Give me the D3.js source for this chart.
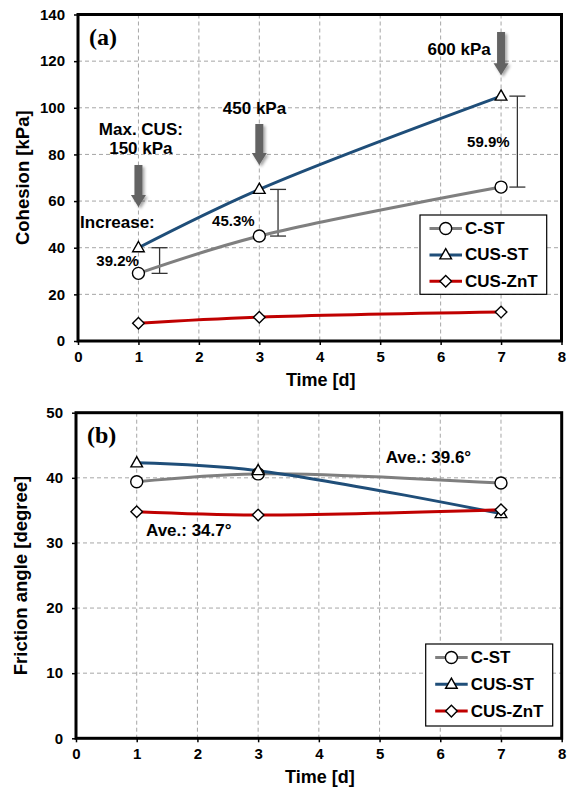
<!DOCTYPE html>
<html><head><meta charset="utf-8">
<script src="https://cdn.jsdelivr.net/npm/d3@7"></script>
<style>body{margin:0;background:#fff} svg{display:block}</style>
</head><body><svg id="c" width="567" height="792"></svg>
<script>
// ---------- data ----------
const days = [1, 3, 7];
const seriesNames = ["C-ST", "CUS-ST", "CUS-ZnT"];
const cohesionCST = [29, 45, 66];
const cohesionCUSST = [40, 65, 105];
const cohesionCUSZnT = [7.6, 10.2, 12.4];
const frictionCST = [39.4, 40.6, 39.2];
const frictionCUSST = [42.3, 41.1, 34.5];
const frictionCUSZnT = [34.8, 34.3, 35.1];
const xTicks = [0, 1, 2, 3, 4, 5, 6, 7, 8];
const cohesionTicks = [0, 20, 40, 60, 80, 100, 120, 140];
const frictionTicks = [0, 10, 20, 30, 40, 50];
const increaseLabels = ["39.2%", "45.3%", "59.9%"];
const pressureLabels = ["150 kPa", "450 kPa", "600 kPa"];
const averageLabels = ["Ave.: 39.6°", "Ave.: 34.7°"];

const colors = ["#7f7f7f", "#1f4e79", "#c00000"];
const markers = ["circle", "triangle", "diamond"];
const FONT = "'Liberation Sans', Arial, Helvetica, sans-serif";

const svg = d3.select("#c");
const defs = svg.append("defs");
const f = defs.append("filter").attr("id", "sh").attr("x", "-50%").attr("y", "-50%").attr("width", "200%").attr("height", "200%");
f.append("feDropShadow").attr("dx", 2).attr("dy", 2).attr("stdDeviation", 1.6).attr("flood-color", "#000").attr("flood-opacity", 0.35);

function markerPath(type) {
  if (type === "triangle") return "M0,-6.2L5.8,4L-5.8,4Z";
  if (type === "diamond") return "M0,-5.8L5.8,0L0,5.8L-5.8,0Z";
  return null;
}
function drawMarker(g, type, cx, cy) {
  if (type === "circle") {
    g.append("circle").attr("cx", cx).attr("cy", cy).attr("r", 6)
      .attr("fill", "#fff").attr("stroke", "#000").attr("stroke-width", 1.4);
  } else {
    g.append("path").attr("d", markerPath(type)).attr("transform", `translate(${cx},${cy})`)
      .attr("fill", "#fff").attr("stroke", "#000").attr("stroke-width", 1.4);
  }
}

function panel(cfg) {
  const x = d3.scaleLinear().domain([0, 8]).range([cfg.x0, cfg.x1]);
  const y = d3.scaleLinear().domain([0, cfg.ymax]).range([cfg.y1, cfg.y0]);
  const g = svg.append("g");

  // grid
  g.selectAll(".vg").data(xTicks.filter(d => d > 0 && d < 8)).enter().append("line")
    .attr("x1", d => x(d)).attr("x2", d => x(d)).attr("y1", cfg.y0).attr("y2", cfg.y1)
    .attr("stroke", "#a6a6a6").attr("stroke-width", 1).attr("stroke-dasharray", "4,3");
  g.selectAll(".hg").data(cfg.yTicks.filter(d => d > 0 && d < cfg.ymax)).enter().append("line")
    .attr("x1", cfg.x0).attr("x2", cfg.x1).attr("y1", d => y(d)).attr("y2", d => y(d))
    .attr("stroke", "#a6a6a6").attr("stroke-width", 1).attr("stroke-dasharray", "4,3");

  // axes
  const ax = g.append("g").attr("transform", `translate(0,${cfg.y1})`)
    .call(d3.axisBottom(x).tickValues(xTicks).tickSize(4).tickPadding(6).tickFormat(d3.format("d")));
  const ay = g.append("g").attr("transform", `translate(${cfg.x0},0)`)
    .call(d3.axisLeft(y).tickValues(cfg.yTicks).tickSize(4).tickPadding(9).tickFormat(d3.format("d")));
  [ax, ay].forEach(a => {
    a.select(".domain").remove();
    a.selectAll("line").attr("stroke", "#000").attr("stroke-width", 1.5);
    a.selectAll("text").attr("font-family", FONT).attr("font-size", 15).attr("font-weight", "bold").attr("fill", "#000");
  });

  // frame
  g.append("rect").attr("x", cfg.x0).attr("y", cfg.y0).attr("width", cfg.x1 - cfg.x0).attr("height", cfg.y1 - cfg.y0)
    .attr("fill", "none").attr("stroke", "#000").attr("stroke-width", 3);

  // axis titles
  g.append("text").attr("x", (cfg.x0 + cfg.x1) / 2 + 1).attr("y", cfg.y1 + 45)
    .attr("text-anchor", "middle").attr("font-family", FONT).attr("font-size", 18).attr("font-weight", "bold").text("Time [d]");
  g.append("text").attr("transform", `translate(${cfg.ylabX},${(cfg.y0 + cfg.y1) / 2}) rotate(-90)`)
    .attr("text-anchor", "middle").attr("dominant-baseline", "central")
    .attr("font-family", FONT).attr("font-size", 18.5).attr("font-weight", "bold").text(cfg.ylabel);

  // panel letter
  g.append("text").attr("x", cfg.x0 + 11).attr("y", cfg.y0 + 30)
    .attr("font-family", "'Liberation Serif', 'Times New Roman', serif").attr("font-size", 24).attr("font-weight", "bold").text(cfg.letter);

  return { x, y, g };
}

function drawSeries(p, seriesList) {
  const line = d3.line().x(d => p.x(d[0])).y(d => p.y(d[1])).curve(d3.curveCatmullRom.alpha(0.5));
  seriesList.forEach((vals, i) => {
    p.g.append("path").datum(days.map((d, k) => [d, vals[k]])).attr("d", line)
      .attr("fill", "none").attr("stroke", colors[i]).attr("stroke-width", 3);
  });
  seriesList.forEach((vals, i) => {
    days.forEach((d, k) => drawMarker(p.g, markers[i], p.x(d), p.y(vals[k])));
  });
}

function legend(g, lx, ly, w, h, rowGap) {
  g.append("rect").attr("x", lx).attr("y", ly).attr("width", w).attr("height", h)
    .attr("fill", "#fff").attr("stroke", "#000").attr("stroke-width", 1.2);
  seriesNames.forEach((n, i) => {
    const cy = ly + 13.5 + i * rowGap;
    g.append("line").attr("x1", lx + 9.5).attr("x2", lx + 42).attr("y1", cy).attr("y2", cy)
      .attr("stroke", colors[i]).attr("stroke-width", 3);
    drawMarker(g, markers[i], lx + 25.7, cy);
    g.append("text").attr("x", lx + 45).attr("y", cy).attr("dominant-baseline", "central")
      .attr("font-family", FONT).attr("font-size", 17).attr("font-weight", "bold").text(n);
  });
}

function label(g, x, y, txt, size, anchor) {
  g.append("text").attr("x", x).attr("y", y).attr("text-anchor", anchor || "middle")
    .attr("font-family", FONT).attr("font-size", size).attr("font-weight", "bold").attr("fill", "#000").text(txt);
}

function arrow(g, cx, yTop, yTip) {
  const sw = 4, hw = 7.5, hl = 12;
  const d = `M${cx - sw},${yTop}L${cx + sw},${yTop}L${cx + sw},${yTip - hl}L${cx + hw},${yTip - hl}L${cx},${yTip}L${cx - hw},${yTip - hl}L${cx - sw},${yTip - hl}Z`;
  g.append("path").attr("d", d).attr("fill", "#646464").attr("filter", "url(#sh)");
}

function errBar(g, x, yA, yB) {
  const c = "#333";
  g.append("line").attr("x1", x).attr("x2", x).attr("y1", yA).attr("y2", yB).attr("stroke", c).attr("stroke-width", 1.3);
  [yA, yB].forEach(yy => g.append("line").attr("x1", x - 8).attr("x2", x + 8).attr("y1", yy).attr("y2", yy).attr("stroke", c).attr("stroke-width", 1.3));
}

// ---------- panel (a) ----------
const pa = panel({ x0: 78, x1: 561.5, y0: 14.5, y1: 341, ymax: 140, yTicks: cohesionTicks,
  ylabel: "Cohesion [kPa]", ylabX: 22, letter: "(a)" });

// arrows (behind lines)
arrow(pa.g, pa.x(days[0]), pa.y(75.5), pa.y(57.5));
arrow(pa.g, pa.x(days[1]), pa.y(93), pa.y(75.5));
arrow(pa.g, pa.x(days[2]), pa.y(132.5), pa.y(114));

// increase bars
const barDx = [0.35, 0.31, 0.27];
days.forEach((d, k) => errBar(pa.g, pa.x(d + barDx[k]), pa.y(cohesionCUSST[k]), pa.y(cohesionCST[k])));

drawSeries(pa, [cohesionCST, cohesionCUSST, cohesionCUSZnT]);

label(pa.g, pa.x(1.04), pa.y(88.3), "Max. CUS:", 17);
label(pa.g, pa.x(1.04), pa.y(80.2), pressureLabels[0], 17);
label(pa.g, pa.x(2.92), pa.y(97.3), pressureLabels[1], 17);
label(pa.g, pa.x(6.83), pa.y(122.6), pressureLabels[2], 17, "end");
label(pa.g, pa.x(0.035), pa.y(48.3), "Increase:", 17, "start");
label(pa.g, pa.x(0.655), pa.y(32.3), increaseLabels[0], 15);
label(pa.g, pa.x(2.57), pa.y(49.3), increaseLabels[1], 15);
label(pa.g, pa.x(6.79), pa.y(83.2), increaseLabels[2], 15);

legend(pa.g, 420, 215, 126.7, 79.3, 26.4);

// ---------- panel (b) ----------
const pb = panel({ x0: 76, x1: 561.7, y0: 412.7, y1: 738.3, ymax: 50, yTicks: frictionTicks,
  ylabel: "Friction angle [degree]", ylabX: 20, letter: "(b)" });

drawSeries(pb, [frictionCST, frictionCUSST, frictionCUSZnT]);

label(pb.g, pb.x(5.1), pb.y(42.2), averageLabels[0], 17, "start");
label(pb.g, pb.x(1.153), pb.y(31.1), averageLabels[1], 17, "start");

legend(pb.g, 425.7, 644, 127, 82, 26.8);
</script>
</body></html>
